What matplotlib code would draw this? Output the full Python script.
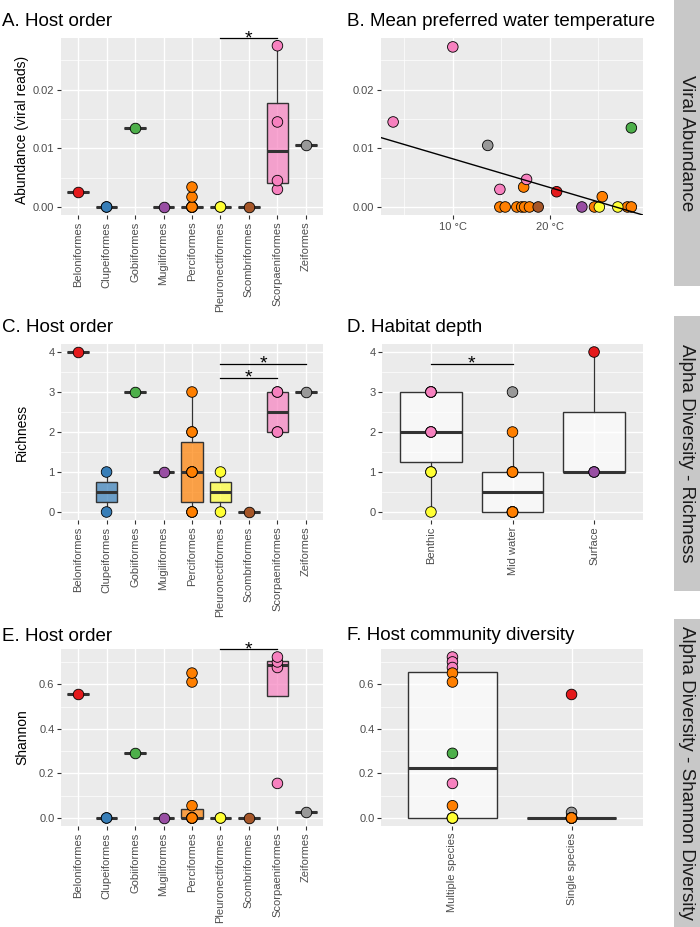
import numpy as np
import matplotlib.pyplot as plt
import matplotlib.colors as mcolors
from matplotlib.patches import Rectangle

plt.rcParams['font.family'] = ['Liberation Sans', 'DejaVu Sans']

# ---- data ----
orders = ['Beloniformes', 'Clupeiformes', 'Gobiiformes', 'Mugiliformes', 'Perciformes',
          'Pleuronectiformes', 'Scombriformes', 'Scorpaeniformes', 'Zeiformes']
order_colors = ['#E41A1C', '#377EB8', '#4DAF4A', '#984EA3', '#FF7F00',
                '#FFFF33', '#A65628', '#F781BF', '#999999']

# A. abundance by host order
abund_by_order = [
    [0.0026],
    [0.0, 0.0],
    [0.0135],
    [0.0],
    [0.0, 0.0, 0.0, 0.0, 0.0, 0.0, 0.0, 0.0, 0.0, 0.0017, 0.0034],
    [0.0, 0.0],
    [0.0],
    [0.003, 0.0045, 0.0145, 0.0275],
    [0.0105],
]

# B. abundance vs mean preferred water temperature
temp_c = [14.85, 15.4, 16.6, 17.1, 17.4, 17.9, 24.6, 28.0, 28.4, 17.3, 25.4,
          18.8, 23.3, 25.1, 27.0, 20.7, 28.4, 13.6, 3.85, 10.0, 14.85, 17.6]
temp_abund = [0.0, 0.0, 0.0, 0.0, 0.0, 0.0, 0.0, 0.0, 0.0, 0.0034, 0.00175,
              0.0, 0.0, 0.0, 0.0, 0.0026, 0.0135, 0.0105, 0.0145, 0.0273, 0.003, 0.0047]
temp_order = [4, 4, 4, 4, 4, 4, 4, 4, 4, 4, 4,
              6, 3, 5, 5, 0, 2, 8, 7, 7, 7, 7]
fit_intercept = 0.0131
fit_slope = -0.000489

# C. richness by host order
rich_by_order = [
    [4],
    [0, 1],
    [3],
    [1],
    [0, 0, 0, 1, 1, 1, 1, 2, 2, 3],
    [0, 1],
    [0],
    [2, 2, 3, 3],
    [3],
]

# D. richness by habitat depth
depth_cats = ['Benthic', 'Mid water', 'Surface']
benthic_vals = [3, 3, 3, 3, 2, 2, 2, 1, 1, 0]
benthic_order = [7, 7, 7, 7, 7, 7, 7, 1, 5, 5]
midwater_vals = [0, 0, 0, 0, 0, 1, 1, 1, 2, 3]
midwater_order = [6, 4, 4, 4, 4, 4, 4, 4, 4, 8]
surface_vals = [1, 1, 4]
surface_order = [1, 3, 0]

# E. shannon by host order
shannon_by_order = [
    [0.554],
    [0.0, 0.0],
    [0.29],
    [0.0],
    [0.0, 0.0, 0.0, 0.0, 0.0, 0.0, 0.0, 0.055, 0.61, 0.65],
    [0.0, 0.0],
    [0.0],
    [0.155, 0.675, 0.70, 0.722],
    [0.025],
]

# F. shannon by host community diversity
community_cats = ['Multiple species', 'Single species']
multi_vals = [0.722, 0.70, 0.675, 0.155, 0.65, 0.61, 0.055, 0.0, 0.29, 0.0, 0.0, 0.0]
multi_order = [7, 7, 7, 7, 4, 4, 4, 4, 2, 1, 5, 5]
single_vals = [0.554, 0.025, 0.0, 0.0, 0.0, 0.0, 0.0, 0.0, 0.0]
single_order = [0, 8, 6, 3, 1, 4, 4, 4, 4]

# significance bars: (from, to, height)
sig_a = [(6, 8, 0.0288)]
sig_c = [(6, 8, 3.36), (6, 9, 3.7)]
sig_d = [(1, 2, 3.7)]
sig_e = [(6, 8, 0.756)]

strip_labels = ['Viral Abundance', 'Alpha Diversity - Richness', 'Alpha Diversity - Shannon Diversity']

# ---- figure ----
W, H = 700, 927
fig = plt.figure(figsize=(7, 9.27), dpi=100)

EDGE = '#333333'
TICKTXT = '#4D4D4D'


def px_axes(left, top, right, bottom):
    return fig.add_axes([left / W, 1 - bottom / H, (right - left) / W, (bottom - top) / H])


def style(ax, xlim, ylim, yticks, ylabels, yminor):
    ax.set_facecolor('#EBEBEB')
    for s in ax.spines.values():
        s.set_visible(False)
    ax.set_xlim(xlim)
    ax.set_ylim(ylim)
    ax.set_yticks(yticks, labels=ylabels)
    ax.set_yticks(yminor, minor=True)
    ax.grid(which='major', color='white', linewidth=1.0)
    ax.grid(which='minor', axis='y', color='white', linewidth=0.5)
    ax.set_axisbelow(True)
    ax.tick_params(length=2.75, width=0.8, color=EDGE, labelcolor=TICKTXT, labelsize=8, pad=2)
    ax.tick_params(which='minor', length=0)


def boxes(ax, groups, facecolors, alpha):
    pos = np.arange(1, len(groups) + 1)
    bp = ax.boxplot(groups, positions=pos, widths=0.75, patch_artist=True, showfliers=False,
                    showcaps=False, whis=1.5,
                    medianprops=dict(color=EDGE, linewidth=2.2, solid_capstyle='butt'),
                    boxprops=dict(edgecolor=EDGE, linewidth=1.0),
                    whiskerprops=dict(color=EDGE, linewidth=0.9))
    for patch, fc in zip(bp['boxes'], facecolors):
        patch.set_facecolor(mcolors.to_rgba(fc, alpha))
        patch.set_zorder(2)
    return pos


def points(ax, x, y, idx):
    ax.scatter(x, y, s=58, c=[order_colors[i] for i in idx], edgecolors='black',
               linewidths=0.6, zorder=3)


def sig(ax, bars):
    for x1, x2, y in bars:
        ax.plot([x1, x2], [y, y], color='black', lw=0.9, clip_on=False, zorder=4)
        ax.annotate('*', xy=((x1 + x2) / 2, y), xytext=(0, -3.5), textcoords='offset points',
                    ha='center', va='baseline', fontsize=14, annotation_clip=False)


def title(x, baseline, text):
    fig.text(x / W, 1 - baseline / H, text, fontsize=13.5, va='baseline', ha='left')


def order_panel(ax, data, ylim, yticks, ylabels, yminor):
    pos = boxes(ax, data, order_colors, 0.7)
    for p, vals in zip(pos, data):
        points(ax, [p] * len(vals), vals, [p - 1] * len(vals))
    style(ax, (0.4, len(data) + 0.6), ylim, yticks, ylabels, yminor)
    ax.set_xticks(pos, labels=orders, rotation=90)


# A
axA = px_axes(61, 38, 323, 215)
order_panel(axA, abund_by_order, (-0.00137, 0.02882), [0, 0.01, 0.02], ['0.00', '0.01', '0.02'],
            [0.005, 0.015, 0.025])
sig(axA, sig_a)
title(2, 26.5, 'A. Host order')
fig.text(22 / W, 1 - 130 / H, 'Abundance (viral reads)', rotation=90, ha='center', va='center', fontsize=10)

# B
axB = px_axes(381, 38, 643, 215)
points(axB, temp_c, temp_abund, temp_order)
axB.axline((0, fit_intercept), slope=fit_slope, color='black', lw=1.0, zorder=4)
style(axB, (2.6, 29.6), (-0.00137, 0.02882), [0, 0.01, 0.02], ['0.00', '0.01', '0.02'],
      [0.005, 0.015, 0.025])
axB.set_xticks([10, 20], labels=['10 °C', '20 °C'])
axB.set_xticks([5, 15, 25], minor=True)
axB.grid(which='minor', axis='x', color='white', linewidth=0.5)
title(347, 26.5, 'B. Mean preferred water temperature')

# C
axC = px_axes(61, 344, 323, 520)
order_panel(axC, rich_by_order, (-0.2, 4.2), [0, 1, 2, 3, 4], ['0', '1', '2', '3', '4'],
            [0.5, 1.5, 2.5, 3.5])
sig(axC, sig_c)
title(2, 332.5, 'C. Host order')
fig.text(22 / W, 1 - 432 / H, 'Richness', rotation=90, ha='center', va='center', fontsize=10)

# D
axD = px_axes(382, 344, 643, 520)
depth_groups = [benthic_vals, midwater_vals, surface_vals]
depth_idx = [benthic_order, midwater_order, surface_order]
boxes(axD, depth_groups, ['white'] * 3, 0.65)
for p, (vals, idx) in enumerate(zip(depth_groups, depth_idx), start=1):
    points(axD, [p] * len(vals), vals, idx)
style(axD, (0.4, 3.6), (-0.2, 4.2), [0, 1, 2, 3, 4], ['0', '1', '2', '3', '4'], [0.5, 1.5, 2.5, 3.5])
axD.set_xticks([1, 2, 3], labels=depth_cats, rotation=90)
sig(axD, sig_d)
title(347, 332.5, 'D. Habitat depth')

# E
axE = px_axes(61, 649, 323, 826)
order_panel(axE, shannon_by_order, (-0.036, 0.758), [0, 0.2, 0.4, 0.6], ['0.0', '0.2', '0.4', '0.6'],
            [0.1, 0.3, 0.5, 0.7])
sig(axE, sig_e)
title(2, 641, 'E. Host order')
fig.text(22 / W, 1 - 737.5 / H, 'Shannon', rotation=90, ha='center', va='center', fontsize=10)

# F
axF = px_axes(381, 649, 643, 826)
comm_groups = [multi_vals, single_vals]
comm_idx = [multi_order, single_order]
boxes(axF, comm_groups, ['white'] * 2, 0.65)
for p, (vals, idx) in enumerate(zip(comm_groups, comm_idx), start=1):
    points(axF, [p] * len(vals), vals, idx)
style(axF, (0.4, 2.6), (-0.036, 0.758), [0, 0.2, 0.4, 0.6], ['0.0', '0.2', '0.4', '0.6'],
      [0.1, 0.3, 0.5, 0.7])
axF.set_xticks([1, 2], labels=community_cats, rotation=90)
title(347, 640.5, 'F. Host community diversity')

# strips on the right
strip_spans = [(0, 285.7), (315.7, 591), (619, 927)]
for (top, bottom), lab in zip(strip_spans, strip_labels):
    fig.add_artist(Rectangle((674 / W, 1 - bottom / H), 40 / W, (bottom - top) / H,
                             transform=fig.transFigure, facecolor='#C8C8C8', edgecolor='none'))
    fig.text(687 / W, 1 - (top + bottom) / 2 / H, lab, rotation=270, ha='center', va='center',
             fontsize=13.5, color='#1A1A1A')

fig.savefig('out.png', dpi=100)
